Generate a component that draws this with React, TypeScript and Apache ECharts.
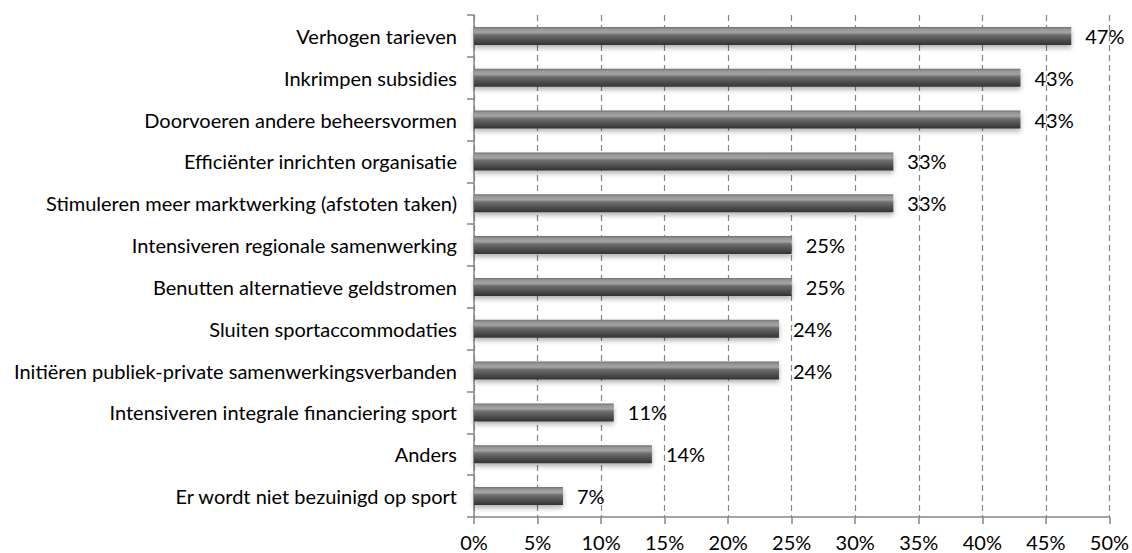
import React, { useEffect, useRef } from "react";
import * as echarts from "echarts";

const categories = [
  "Verhogen tarieven",
  "Inkrimpen subsidies",
  "Doorvoeren andere beheersvormen",
  "Efficiënter inrichten organisatie",
  "Stimuleren meer marktwerking (afstoten taken)",
  "Intensiveren regionale samenwerking",
  "Benutten alternatieve geldstromen",
  "Sluiten sportaccommodaties",
  "Initiëren publiek-private samenwerkingsverbanden",
  "Intensiveren integrale financiering sport",
  "Anders",
  "Er wordt niet bezuinigd op sport",
];
const values = [47, 43, 43, 33, 33, 25, 25, 24, 24, 11, 14, 7];

const FONT = "Lato, 'Liberation Sans', sans-serif";

export default function App() {
  const ref = useRef<HTMLDivElement>(null);
  useEffect(() => {
    if (!ref.current) return;
    const chart = echarts.init(ref.current, undefined, { renderer: "svg" });
    chart.setOption({
      animation: false,
      backgroundColor: "#ffffff",
      grid: { left: 474, right: 20, top: 15, bottom: 36, containLabel: false },
      xAxis: {
        type: "value",
        min: 0,
        max: 50,
        interval: 5,
        axisLine: { show: true, lineStyle: { color: "#868686", width: 1.5 } },
        axisTick: { show: true, length: 7, lineStyle: { color: "#868686", width: 1.5 } },
        axisLabel: {
          formatter: "{value}%",
          color: "#000",
          fontSize: 20,
          fontFamily: FONT,
          margin: 15,
        },
        splitLine: { show: true, lineStyle: { color: "#868686", type: [6, 4], width: 1.2 } },
      },
      yAxis: {
        type: "category",
        data: categories,
        inverse: true,
        axisLine: { show: true, lineStyle: { color: "#868686", width: 1.5 } },
        axisTick: { show: true, length: 7, lineStyle: { color: "#868686", width: 1.5 } },
        axisLabel: {
          color: "#000",
          fontSize: 20,
          fontFamily: FONT,
          margin: 17,
        },
        splitLine: { show: false },
      },
      series: [
        {
          type: "bar",
          data: values,
          barWidth: 18,
          itemStyle: {
            color: new echarts.graphic.LinearGradient(0, 0, 0, 1, [
              { offset: 0, color: "#707070" },
              { offset: 0.12, color: "#959595" },
              { offset: 0.3, color: "#a4a4a4" },
              { offset: 0.45, color: "#6e6e6e" },
              { offset: 0.7, color: "#525252" },
              { offset: 1, color: "#333333" },
            ]),
            shadowColor: "rgba(0,0,0,0.3)",
            shadowBlur: 5,
            shadowOffsetY: 3,
          },
          label: {
            show: true,
            position: "right",
            distance: 14,
            formatter: "{c}%",
            color: "#000",
            fontSize: 20,
            fontFamily: FONT,
          },
        },
      ],
    });
    return () => chart.dispose();
  }, []);
  return (
    <div
      ref={ref}
      style={{ position: "fixed", left: 0, top: 0, width: 1132, height: 553 }}
    />
  );
}
